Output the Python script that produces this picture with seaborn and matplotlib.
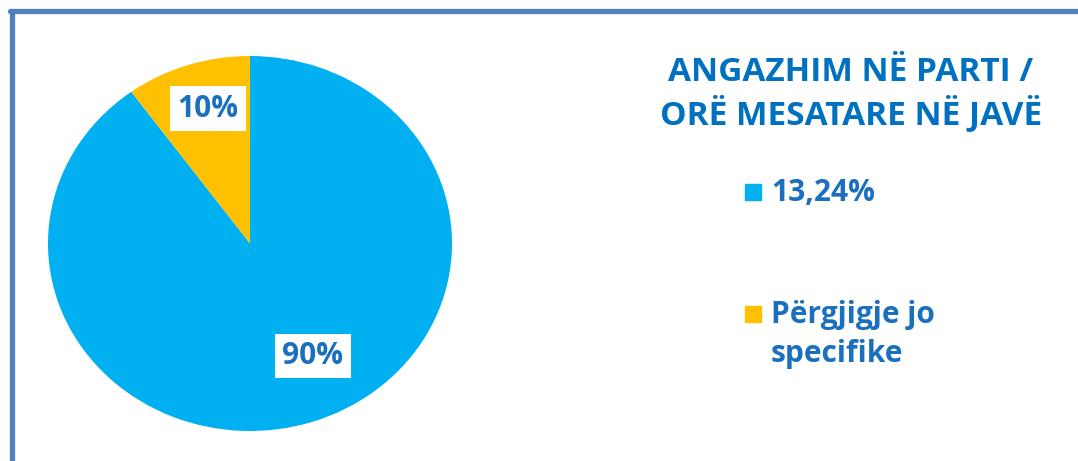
import numpy as np
import matplotlib.pyplot as plt
import seaborn as sns
from matplotlib.lines import Line2D
from matplotlib.patches import Rectangle

# data
categories = ['13,24%', 'Përgjigje jo\nspecifike']
shares = [90, 10]
colors = ['#00B0F0', '#FFC000']
title = 'ANGAZHIM NË PARTI /\nORË MESATARE NË JAVË'

text_blue = '#1A6FBF'

sns.set_theme(style='white')
plt.rcParams['font.family'] = ['Open Sans', 'DejaVu Sans']

W, H = 1078, 461
fig = plt.figure(figsize=(W / 100, H / 100), dpi=100)
fig.patch.set_facecolor('white')

# pie area (slightly wider than tall, as in the source)
ax = fig.add_axes([48 / W, 1 - 431 / H, 404 / W, 375 / H])
wedges, texts, autotexts = ax.pie(
    shares, colors=colors, startangle=90, counterclock=False,
    autopct='%d%%', pctdistance=0.72,
    wedgeprops=dict(linewidth=0, edgecolor='none'),
    textprops=dict(color=text_blue, fontsize=21.5, fontweight='bold'))
ax.set_xlim(-1, 1)
ax.set_ylim(-1, 1)
ax.set_aspect('auto')
ax.axis('off')

# Excel-like label placement
label_pos = [(0.31, -0.60), (-0.21, 0.72)]
for t, pos in zip(autotexts, label_pos):
    t.set_position(pos)
    t.set_ha('center')
    t.set_va('center')
    t.set_bbox(dict(facecolor='white', edgecolor='none', boxstyle='square,pad=0.25'))

# title
fig.text(851 / W, 1 - 94 / H, title, ha='center', va='center',
         color='#0070C0', fontsize=24, fontweight='bold', linespacing=1.22)

# legend
leg_y = [192, 314]
for cat, col, y in zip(categories, colors, leg_y):
    fig.add_artist(Rectangle((745 / W, 1 - (y + 8) / H), 16 / W, 16 / H,
                             transform=fig.transFigure, color=col))
    fig.text(771 / W, 1 - (y - 14) / H, cat, ha='left', va='top',
             color=text_blue, fontsize=21.5, fontweight='bold', linespacing=1.4)

# frame lines at left/top
fig.add_artist(Line2D([11.5 / W, 11.5 / W], [0, 1 - 11.5 / H],
                      transform=fig.transFigure, color='#4F81BD', lw=3.8))
fig.add_artist(Line2D([9.5 / W, 1], [1 - 11.5 / H, 1 - 11.5 / H],
                      transform=fig.transFigure, color='#4F81BD', lw=3.8))

fig.savefig('out.png', dpi=100)
